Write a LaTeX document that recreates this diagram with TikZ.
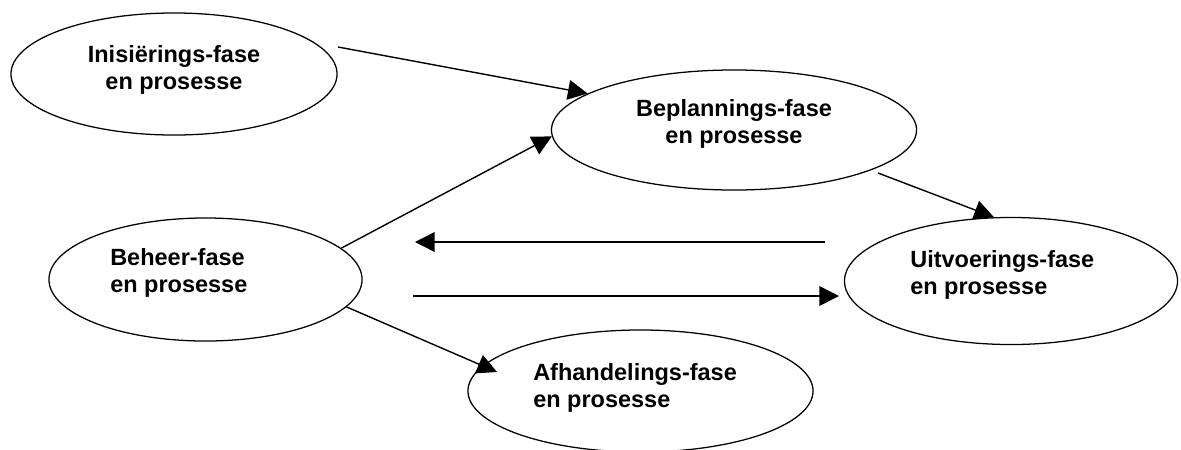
\documentclass[tikz,border=0pt]{standalone}
\usepackage{fontspec}
\setmainfont{Liberation Sans}
\usetikzlibrary{shapes.geometric,arrows.meta}

\begin{document}
\begin{tikzpicture}[x=0.025cm,y=-0.025cm,
		fase/.style={draw=black, line width=0.9pt, ellipse, inner sep=0pt},
		fasetext/.style={inner sep=0pt, font=\bfseries\fontsize{16.7}{19.2}\selectfont},
		pyl/.style={draw=black, line width=1pt, -{Triangle[length=14pt,width=14pt]}}]
		\useasboundingbox (0,0) rectangle (1181,449);

		% die fases
		\node[fase, minimum width=8.15cm, minimum height=3.05cm] (inis) at (174,74) {};
		\node[fase, minimum width=9.125cm, minimum height=3cm] (bepl) at (734,130) {};
		\node[fase, minimum width=7.825cm, minimum height=3.075cm] (beheer) at (205.5,279.5) {};
		\node[fase, minimum width=8.325cm, minimum height=3.175cm] (uitv) at (1011,281) {};
		\node[fase, minimum width=8.625cm, minimum height=3.05cm] (afh) at (640.5,391) {};

		\node[fasetext, align=center] (inistxt) at (174,69.5) {Inisiërings-fase\\en prosesse};
		\node[fasetext, align=center] (bepltxt) at (734,123.5) {Beplannings-fase\\en prosesse};
		\node[fasetext, align=left, anchor=west] (beheertxt) at (110,272.5) {Beheer-fase\\en prosesse};
		\node[fasetext, align=left, anchor=west] (uitvtxt) at (910,275) {Uitvoerings-fase\\en prosesse};
		\node[fasetext, align=left, anchor=west] (afhtxt) at (533,387.5) {Afhandelings-fase\\en prosesse};

		% vrye punte
		\coordinate (inisuit) at (338,47);
		\coordinate (beplhoek) at (878,173);
		\coordinate (terugbegin) at (825,242);
		\coordinate (terugeind) at (415,242);
		\coordinate (heenbegin) at (413,296);
		\coordinate (heeneind) at (839,296);
		\coordinate (afhpunt) at (497,372);

		% pyle
		\draw[pyl] (inisuit) -- (bepl.166);
		\draw[pyl] (beheer.13) -- (bepl.182);
		\draw[pyl] (beplhoek) -- (uitv.105);
		\draw[pyl] (terugbegin) -- (terugeind);
		\draw[pyl] (heenbegin) -- (heeneind);
		\draw[pyl] (beheer.-11) -- (afhpunt);
	\end{tikzpicture}
\end{document}
